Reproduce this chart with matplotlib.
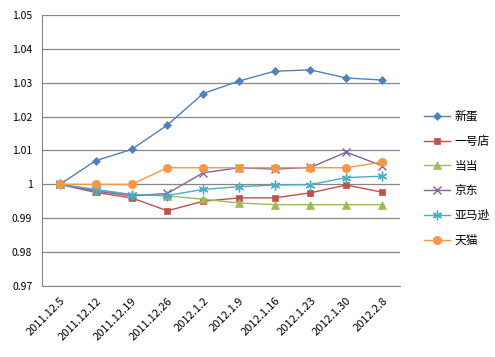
import matplotlib
matplotlib.use("Agg")
import matplotlib.pyplot as plt
import numpy as np

plt.rcParams['font.family'] = ['Noto Sans CJK SC', 'DejaVu Sans']

dates = ['2011.12.5', '2011.12.12', '2011.12.19', '2011.12.26', '2012.1.2',
         '2012.1.9', '2012.1.16', '2012.1.23', '2012.1.30', '2012.2.8']

xindan = [1.0, 1.007, 1.0103, 1.0175, 1.0268, 1.0305, 1.0334, 1.0338, 1.0314, 1.0308]
yihaodian = [1.0, 0.9976, 0.996, 0.9922, 0.995, 0.996, 0.996, 0.9975, 0.9998, 0.9977]
dangdang = [1.0, 0.9982, 0.997, 0.9966, 0.9956, 0.9945, 0.994, 0.994, 0.994, 0.994]
jingdong = [1.0, 0.998, 0.9966, 0.9973, 1.0034, 1.0049, 1.0045, 1.005, 1.0095, 1.0055]
yamaxun = [1.0, 0.9985, 0.997, 0.9967, 0.9985, 0.9993, 0.9998, 0.9999, 1.002, 1.0024]
tianmao = [1.0, 1.0, 1.0, 1.0049, 1.0049, 1.0049, 1.0049, 1.0049, 1.0049, 1.0066]

names = ['新蛋', '一号店', '当当', '京东', '亚马逊', '天猫']
series = [xindan, yihaodian, dangdang, jingdong, yamaxun, tianmao]
colors = ['#4F81BD', '#C0504D', '#9BBB59', '#8064A2', '#4BACC6', '#F79646']
markers = ['D', 's', '^', 'x', (6, 2, 0), 'o']
msizes = [4.5, 5, 5.5, 6, 7, 6]

yticks = [0.97, 0.98, 0.99, 1.0, 1.01, 1.02, 1.03, 1.04, 1.05]
ylabels = ['0.97', '0.98', '0.99', '1', '1.01', '1.02', '1.03', '1.04', '1.05']

fig = plt.figure(figsize=(4.95, 3.57), dpi=100)
ax = fig.add_axes([0.085, 0.199, 0.723, 0.759])

x = np.arange(len(dates))
for s, n, c, m, ms in zip(series, names, colors, markers, msizes):
    thin = m in ('x',) or isinstance(m, tuple)
    ax.plot(x, s, color=c, marker=m, markersize=ms, linewidth=1, label=n,
            markeredgewidth=1 if thin else 0.5, markeredgecolor=c)

ax.set_xlim(-0.5, len(dates) - 0.5)
ax.set_ylim(0.97, 1.05)
ax.set_yticks(yticks)
ax.set_yticklabels(ylabels, fontsize=7.5)
ax.set_xticks(x)
ax.set_xticklabels(dates, rotation=45, ha='right', rotation_mode='anchor', fontsize=8)
ax.tick_params(length=0, pad=7)
ax.yaxis.grid(True, color='#868686', linewidth=0.9)
ax.set_axisbelow(True)
for sp in ['top', 'right']:
    ax.spines[sp].set_visible(False)
for sp in ['left', 'bottom']:
    ax.spines[sp].set_color('#868686')

fig.legend(loc='center left', bbox_to_anchor=(0.835, 0.5), frameon=False,
           fontsize=8.5, handlelength=2.2, labelspacing=1.0, handletextpad=0.4)

fig.savefig('out.png', dpi=100)
